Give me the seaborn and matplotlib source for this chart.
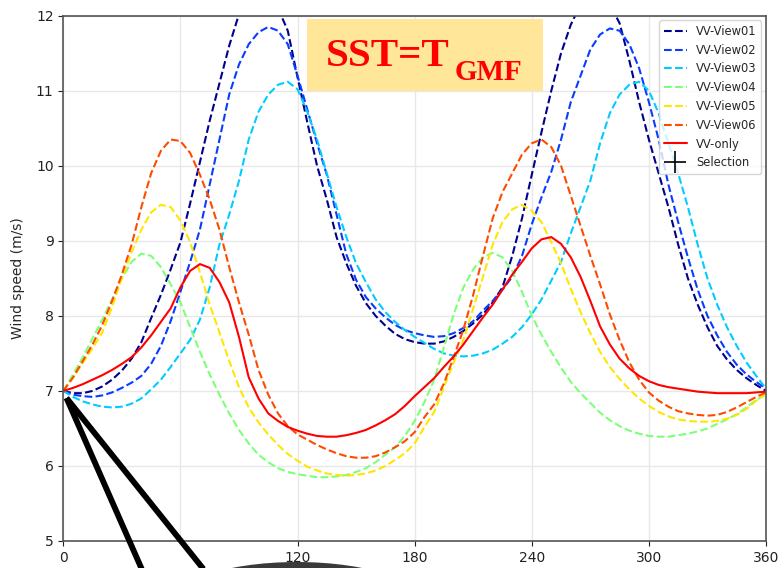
import numpy as np
import pandas as pd
import matplotlib
matplotlib.use("Agg")
import matplotlib.pyplot as plt
import seaborn as sns
from matplotlib.lines import Line2D
from matplotlib.patches import Rectangle, Ellipse

# azimuth (deg), sampled every 5 degrees
angle = np.arange(0, 365, 5)

view01 = [7.00, 6.97, 6.97, 7.00, 7.06, 7.15, 7.27, 7.43, 7.65, 7.97, 8.28, 8.62, 8.98, 9.50, 10.05,
          10.60, 11.10, 11.60, 12.02, 12.25, 12.35, 12.30, 12.10, 11.80, 11.18, 10.58, 10.00, 9.55, 9.05,
          8.70, 8.40, 8.17, 8.00, 7.87, 7.76, 7.69, 7.65, 7.63, 7.63, 7.66, 7.72, 7.80, 7.90, 8.02, 8.18,
          8.38, 8.80, 9.30, 9.88, 10.45, 11.00, 11.50, 11.88, 12.15, 12.30, 12.30, 12.15, 11.90, 11.40,
          10.85, 10.35, 9.90, 9.45, 8.95, 8.50, 8.15, 7.85, 7.60, 7.42, 7.28, 7.17, 7.08, 7.00]
view02 = [7.00, 6.95, 6.93, 6.92, 6.94, 6.98, 7.04, 7.11, 7.20, 7.36, 7.60, 7.93, 8.32, 8.72, 9.15,
          9.75, 10.35, 10.95, 11.35, 11.62, 11.78, 11.85, 11.80, 11.62, 11.20, 10.75, 10.30, 9.88, 9.35,
          8.82, 8.48, 8.25, 8.10, 7.98, 7.88, 7.81, 7.77, 7.74, 7.72, 7.73, 7.77, 7.84, 7.93, 8.07, 8.20,
          8.35, 8.52, 8.80, 9.22, 9.58, 9.92, 10.35, 10.85, 11.20, 11.55, 11.75, 11.83, 11.80, 11.62,
          11.30, 10.85, 10.35, 9.75, 9.25, 8.78, 8.35, 8.00, 7.74, 7.52, 7.35, 7.22, 7.12, 7.03]
view03 = [7.00, 6.92, 6.86, 6.82, 6.79, 6.78, 6.79, 6.83, 6.90, 7.02, 7.15, 7.32, 7.50, 7.68, 7.95,
          8.38, 8.95, 9.35, 9.80, 10.35, 10.72, 10.95, 11.08, 11.12, 11.02, 10.72, 10.35, 9.90, 9.45,
          9.05, 8.70, 8.45, 8.22, 8.05, 7.92, 7.81, 7.72, 7.64, 7.56, 7.50, 7.47, 7.46, 7.47, 7.50, 7.55,
          7.63, 7.72, 7.85, 8.02, 8.22, 8.47, 8.72, 9.10, 9.45, 9.80, 10.30, 10.70, 10.95, 11.08,
          11.12, 11.00, 10.70, 10.30, 9.90, 9.45, 8.95, 8.50, 8.15, 7.85, 7.60, 7.38, 7.20, 7.03]
view04 = [7.00, 7.22, 7.45, 7.70, 7.95, 8.22, 8.50, 8.72, 8.83, 8.80, 8.65, 8.42, 8.18, 7.85, 7.52,
          7.22, 6.95, 6.70, 6.48, 6.30, 6.15, 6.05, 5.97, 5.92, 5.89, 5.87, 5.85, 5.85, 5.86,
          5.88, 5.92, 5.97, 6.05, 6.15, 6.25, 6.40, 6.60, 6.85, 7.15, 7.58, 8.02, 8.38, 8.62, 8.78, 8.84,
          8.78, 8.60, 8.32, 8.00, 7.75, 7.52, 7.31, 7.12, 6.97, 6.84, 6.71, 6.61, 6.53, 6.47,
          6.43, 6.40, 6.39, 6.39, 6.41, 6.43, 6.46, 6.50, 6.56, 6.62, 6.69, 6.78, 6.88, 6.95]
view05 = [7.00, 7.18, 7.37, 7.57, 7.78, 8.12, 8.50, 8.85, 9.15, 9.38, 9.48, 9.45, 9.27, 8.98, 8.58,
          8.15, 7.78, 7.40, 7.05, 6.78, 6.58, 6.42, 6.28, 6.16, 6.07, 5.99, 5.94, 5.90, 5.88,
          5.87, 5.88, 5.90, 5.94, 6.00, 6.08, 6.17, 6.30, 6.52, 6.72, 7.05, 7.38, 7.68, 8.10, 8.52, 8.95,
          9.25, 9.42, 9.48, 9.40, 9.25, 8.98, 8.70, 8.36, 8.05, 7.77, 7.52, 7.32, 7.16, 7.02,
          6.90, 6.80, 6.72, 6.66, 6.62, 6.60, 6.59, 6.59, 6.60, 6.63, 6.68, 6.76, 6.87, 6.97]
view06 = [7.00, 7.18, 7.40, 7.62, 7.88, 8.20, 8.55, 8.95, 9.45, 9.90, 10.20, 10.35, 10.33, 10.17, 9.88,
          9.55, 9.15, 8.65, 8.18, 7.75, 7.28, 6.95, 6.70, 6.53, 6.42, 6.35, 6.28, 6.22, 6.17,
          6.13, 6.11, 6.11, 6.13, 6.18, 6.25, 6.33, 6.45, 6.65, 6.82, 7.10, 7.45, 7.82, 8.28, 8.80, 9.30,
          9.65, 9.90, 10.15, 10.30, 10.35, 10.25, 10.00, 9.60, 9.20, 8.80, 8.42, 8.02, 7.68, 7.38,
          7.15, 6.98, 6.87, 6.79, 6.73, 6.70, 6.68, 6.67, 6.68, 6.72, 6.78, 6.85, 6.92, 6.98]
vv_only = [7.00, 7.04, 7.09, 7.15, 7.21, 7.28, 7.36, 7.45, 7.58, 7.74, 7.92, 8.10, 8.38, 8.60, 8.69,
           8.64, 8.45, 8.18, 7.72, 7.18, 6.90, 6.70, 6.60, 6.52, 6.47, 6.43, 6.40, 6.39, 6.39,
           6.41, 6.44, 6.48, 6.54, 6.61, 6.69, 6.80, 6.93, 7.05, 7.17, 7.32, 7.46, 7.62, 7.80, 7.98, 8.15,
           8.35, 8.55, 8.72, 8.90, 9.02, 9.05, 8.96, 8.78, 8.52, 8.20, 7.86, 7.62, 7.43, 7.30,
           7.20, 7.13, 7.08, 7.05, 7.03, 7.01, 6.99, 6.98, 6.97, 6.97, 6.97, 6.97, 6.98, 6.99]

view_names = ['VV-View01', 'VV-View02', 'VV-View03', 'VV-View04', 'VV-View05', 'VV-View06']
view_colors = ['#00008f', '#0a3cff', '#00ccff', '#7dff7a', '#ffe600', '#ff4a00']
views = [view01, view02, view03, view04, view05, view06]

W, H = 784, 568


def px(x, y):
    # pixel position (from top-left) -> figure fraction
    return x / W, 1 - y / H


sns.set_style('ticks')
plt.rcParams['font.family'] = ['DejaVu Sans']

fig = plt.figure(figsize=(W / 100, H / 100), dpi=100)
ax = fig.add_axes([63.3 / W, (H - 541) / H, (766 - 63.3) / W, (541 - 15.7) / H])

for name, col, vals in zip(view_names, view_colors, views):
    sns.lineplot(x=angle, y=vals, ax=ax, color=col, linestyle='--', lw=1.5, label=name)
sns.lineplot(x=angle, y=vv_only, ax=ax, color='red', lw=1.5, label='VV-only')
ax.plot([], [], 'k+', markersize=16, mew=1.2, label='Selection')

ax.set_xlim(0, 360)
ax.set_ylim(5, 12)
ax.set_xticks([0, 120, 180, 240, 300, 360])
ax.set_xticks([60], minor=True)
ax.set_yticks(range(5, 13))
ax.tick_params(axis='x', which='minor', length=0)
ax.tick_params(labelsize=10, colors='#222222')
ax.grid(True, which='both', color='#e8e8e8', lw=1)
ax.set_axisbelow(True)
for s in ax.spines.values():
    s.set_color('#555555')
    s.set_linewidth(1.2)
ax.set_ylabel('Wind speed (m/s)', fontsize=10, labelpad=8)
ax.set_xlabel('')

leg = ax.legend(loc='upper right', fontsize=8.3, framealpha=0.8, borderaxespad=0.4)

# title box
x0, y0 = px(307, 91)
x1, y1 = px(543, 19)
fig.add_artist(Rectangle((x0, y0), x1 - x0, y1 - y0, transform=fig.transFigure,
                         facecolor='#ffe699', edgecolor='none', zorder=5))
fig.text(*px(326, 66), 'SST=T', color='red', fontsize=29.5, fontweight='bold',
         family='Liberation Serif', ha='left', va='baseline', zorder=6)
fig.text(*px(455, 80), 'GMF', color='red', fontsize=21, fontweight='bold',
         family='Liberation Serif', ha='left', va='baseline', zorder=6)

# callout lines and shape below the axes
for xe in (147, 213):
    xa, ya = px(66.5, 398)
    xb, yb = px(xe, 398 + 183)
    fig.add_artist(Line2D([xa, xb], [ya, yb], transform=fig.transFigure,
                          color='black', lw=4.2, solid_capstyle='butt', zorder=7))
ex, ey = px(297, 610)
fig.add_artist(Ellipse((ex, ey), 270 / W, 96 / H, transform=fig.transFigure,
                       facecolor='#3a3a3a', edgecolor='none', zorder=7))

fig.savefig('out.png', dpi=100)
